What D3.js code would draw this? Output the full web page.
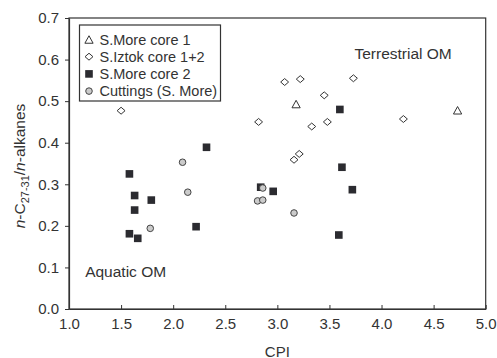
<!DOCTYPE html>
<html>
<head>
<meta charset="utf-8">
<script src="https://cdn.jsdelivr.net/npm/d3@7"></script>
<style>
  body { margin: 0; background: #fff; }
  text { font-family: "Liberation Sans", Arial, sans-serif; fill: #333; }
</style>
</head>
<body>
<div id="chart"></div>
<script>
// S.More core 1 (triangles)
const smore1CPI = [3.18, 4.73];
const smore1Ratio = [0.493, 0.478];
// S.Iztok core 1+2 (diamonds)
const iztokCPI = [1.50, 3.07, 3.22, 3.73, 3.45, 2.82, 3.33, 3.48, 4.21, 3.21, 3.16];
const iztokRatio = [0.477, 0.546, 0.553, 0.555, 0.514, 0.450, 0.439, 0.450, 0.457, 0.373, 0.359];
// S.More core 2 (squares)
const smore2CPI = [3.60, 3.62, 1.58, 2.32, 1.63, 1.79, 1.63, 1.58, 1.66, 2.22, 2.84, 2.96, 3.72, 3.59];
const smore2Ratio = [0.480, 0.341, 0.325, 0.389, 0.273, 0.262, 0.238, 0.181, 0.170, 0.198, 0.293, 0.283, 0.287, 0.178];
// Cuttings (S. More) (circles)
const cuttCPI = [2.09, 2.14, 1.78, 2.86, 2.81, 2.86, 3.16];
const cuttRatio = [0.353, 0.281, 0.194, 0.291, 0.260, 0.262, 0.231];

const xTicks = [1.0, 1.5, 2.0, 2.5, 3.0, 3.5, 4.0, 4.5, 5.0];
const yTicks = [0.0, 0.1, 0.2, 0.3, 0.4, 0.5, 0.6, 0.7];
const seriesNames = ["S.More core 1", "S.Iztok core 1+2", "S.More core 2", "Cuttings (S. More)"];

const width = 497, height = 358;
const margin = { top: 18, right: 11.3, bottom: 49, left: 69 };
const innerWidth = width - margin.left - margin.right;
const innerHeight = height - margin.top - margin.bottom;

const x = d3.scaleLinear().domain([1, 5]).range([0, innerWidth]);
const y = d3.scaleLinear().domain([0, 0.7]).range([innerHeight, 0]);

const diamond = {
    draw(ctx, size) {
        const w = Math.sqrt(size) * 0.55, h = Math.sqrt(size) * 0.48;
        ctx.moveTo(0, -h); ctx.lineTo(w, 0); ctx.lineTo(0, h); ctx.lineTo(-w, 0); ctx.closePath();
    }
};
const triangle = {
    draw(ctx, size) {
        const w = Math.sqrt(size) * 0.55, h = Math.sqrt(size) * 0.5;
        ctx.moveTo(0, -h); ctx.lineTo(w, h); ctx.lineTo(-w, h); ctx.closePath();
    }
};

const series = [
    { name: seriesNames[0], xs: smore1CPI, ys: smore1Ratio, type: triangle, size: 56, fill: "#fff", stroke: "#333", sw: 1 },
    { name: seriesNames[1], xs: iztokCPI, ys: iztokRatio, type: diamond, size: 52, fill: "#fff", stroke: "#333", sw: 1 },
    { name: seriesNames[2], xs: smore2CPI, ys: smore2Ratio, type: d3.symbolSquare, size: 58, fill: "#2b2b30", stroke: "none", sw: 0 },
    { name: seriesNames[3], xs: cuttCPI, ys: cuttRatio, type: d3.symbolCircle, size: 34, fill: "#cbcbcb", stroke: "#444", sw: 1 }
];

const svg = d3.select('#chart').append('svg').attr('width', width).attr('height', height);
const chart = svg.append('g').attr('transform', `translate(${margin.left},${margin.top})`);

// frame
chart.append('rect')
    .attr('width', innerWidth).attr('height', innerHeight)
    .attr('fill', 'none').attr('stroke', '#333').attr('stroke-width', 1.2);

const xAxis = d3.axisBottom(x).tickValues(xTicks).tickFormat(d3.format('.1f')).tickSizeInner(-4).tickSizeOuter(0).tickPadding(9);
const yAxis = d3.axisLeft(y).tickValues(yTicks).tickFormat(d3.format('.1f')).tickSizeInner(4).tickSizeOuter(0).tickPadding(6);

const gx = chart.append('g').attr('transform', `translate(0,${innerHeight})`).call(xAxis);
const gy = chart.append('g').call(yAxis);
[gx, gy].forEach(g => {
    g.select('.domain').attr('stroke', '#333').attr('stroke-width', 1.2);
    g.selectAll('.tick line').attr('stroke', '#333');
    g.selectAll('.tick text').attr('font-size', 15).attr('fill', '#333')
        .style('font-family', '"Liberation Sans", Arial, sans-serif');
});

// points
series.forEach(s => {
    chart.append('g').selectAll('path')
        .data(s.xs.map((v, i) => [v, s.ys[i]]))
        .enter()
        .append('path')
        .attr('d', d3.symbol().type(s.type).size(s.size))
        .attr('transform', d => `translate(${x(d[0])},${y(d[1])})`)
        .attr('fill', s.fill)
        .attr('stroke', s.stroke)
        .attr('stroke-width', s.sw);
});

// annotations
chart.append('text').attr('x', x(3.74)).attr('y', y(0.6025)).attr('font-size', 15.5).text('Terrestrial OM');
chart.append('text').attr('x', x(1.155)).attr('y', y(0.0775)).attr('font-size', 15.5).text('Aquatic OM');

// legend
const legend = svg.append('g').attr('transform', 'translate(79.5,25)');
legend.append('rect').attr('width', 141).attr('height', 76)
    .attr('fill', '#fff').attr('stroke', '#333').attr('stroke-width', 1.2);
series.forEach((s, i) => {
    const row = legend.append('g').attr('transform', `translate(0,${19.5 + i * 17.2})`);
    row.append('path')
        .attr('d', d3.symbol().type(s.type).size(s.size))
        .attr('transform', 'translate(9.5,-5)')
        .attr('fill', s.fill).attr('stroke', s.stroke).attr('stroke-width', s.sw);
    row.append('text').attr('x', 20).attr('y', 0).attr('font-size', 14.5).text(s.name);
});

// axis titles
svg.append('text')
    .attr('x', margin.left + x(3.0)).attr('y', 356.5)
    .attr('text-anchor', 'middle').attr('font-size', 15).text('CPI');

const yTitle = svg.append('text')
    .attr('transform', 'translate(25,166) rotate(-90)')
    .attr('text-anchor', 'middle').attr('font-size', 15.5);
yTitle.append('tspan').attr('font-style', 'italic').text('n');
yTitle.append('tspan').text('-C');
yTitle.append('tspan').attr('font-size', 11).attr('dy', 4).text('27-31');
yTitle.append('tspan').attr('dy', -4).text('/');
yTitle.append('tspan').attr('font-style', 'italic').text('n');
yTitle.append('tspan').text('-alkanes');
</script>
</body>
</html>
